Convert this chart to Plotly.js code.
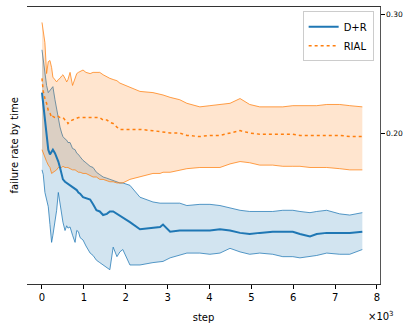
<!DOCTYPE html>
<html>
<head>
<meta charset="utf-8">
<script src="https://cdn.plot.ly/plotly-3.0.1.min.js"></script>
<style>
  html, body { margin: 0; padding: 0; background: #fff; }
  #chart { width: 416px; height: 332px; }
</style>
</head>
<body>
<div id="chart"></div>
<script>
// training step
var steps = [0, 30, 70, 110, 150, 190, 230, 260, 310, 350,
  390, 430, 470, 500, 550, 590, 620, 670, 730, 790,
  830, 870, 910, 980, 1050, 1150, 1220, 1300, 1380, 1460,
  1550, 1620, 1700, 1790, 1860, 1930, 2100, 2340, 2650, 2820,
  2890, 3060, 3290, 3460, 3770, 4010, 4250, 4490, 4730, 4960,
  5200, 5510, 5750, 5990, 6160, 6400, 6560, 6800, 7110, 7350,
  7650];

// D+R : mean and band
var drMean = [0.234, 0.224, 0.211, 0.197, 0.186, 0.182, 0.184, 0.186, 0.183, 0.180,
  0.176, 0.171, 0.166, 0.161, 0.159, 0.158, 0.157, 0.156, 0.155, 0.153,
  0.152, 0.150, 0.149, 0.146, 0.145, 0.144, 0.140, 0.135, 0.134, 0.131,
  0.132, 0.134, 0.134, 0.132, 0.130, 0.129, 0.125, 0.119, 0.120, 0.121,
  0.123, 0.117, 0.118, 0.118, 0.118, 0.118, 0.119, 0.118, 0.116, 0.115,
  0.116, 0.117, 0.117, 0.117, 0.115, 0.113, 0.115, 0.116, 0.116, 0.116,
  0.117];
var drUpper = [0.270, 0.261, 0.247, 0.240, 0.234, 0.236, 0.238, 0.239, 0.228, 0.219,
  0.211, 0.205, 0.200, 0.197, 0.195, 0.194, 0.192, 0.192, 0.187, 0.186,
  0.183, 0.182, 0.180, 0.177, 0.175, 0.172, 0.171, 0.167, 0.165, 0.163,
  0.162, 0.161, 0.160, 0.159, 0.158, 0.158, 0.156, 0.146, 0.142, 0.141,
  0.141, 0.141, 0.141, 0.139, 0.140, 0.140, 0.139, 0.137, 0.135, 0.134,
  0.134, 0.134, 0.135, 0.135, 0.134, 0.133, 0.134, 0.135, 0.132, 0.131,
  0.133];
var drLower = [0.169, 0.165, 0.150, 0.144, 0.138, 0.123, 0.108, 0.114, 0.124, 0.135,
  0.150, 0.140, 0.129, 0.125, 0.118, 0.122, 0.120, 0.121, 0.114, 0.108,
  0.118, 0.117, 0.112, 0.110, 0.105, 0.099, 0.097, 0.093, 0.091, 0.089,
  0.087, 0.085, 0.104, 0.096, 0.100, 0.102, 0.089, 0.089, 0.091, 0.092,
  0.092, 0.095, 0.097, 0.099, 0.099, 0.098, 0.099, 0.103, 0.100, 0.098,
  0.099, 0.098, 0.096, 0.096, 0.095, 0.096, 0.097, 0.099, 0.098, 0.098,
  0.102];

// RIAL : mean and band
var rialMean = [0.246, 0.235, 0.229, 0.225, 0.219, 0.217, 0.213, 0.214, 0.213, 0.213,
  0.214, 0.213, 0.213, 0.213, 0.211, 0.210, 0.208, 0.210, 0.211, 0.212,
  0.213, 0.213, 0.213, 0.213, 0.213, 0.213, 0.213, 0.213, 0.213, 0.211,
  0.211, 0.209, 0.208, 0.205, 0.203, 0.203, 0.203, 0.203, 0.202, 0.201,
  0.201, 0.200, 0.200, 0.198, 0.197, 0.198, 0.198, 0.200, 0.202, 0.200,
  0.199, 0.199, 0.199, 0.199, 0.198, 0.198, 0.198, 0.198, 0.198, 0.197,
  0.197];
var rialUpper = [0.293, 0.287, 0.276, 0.250, 0.260, 0.261, 0.255, 0.247, 0.245, 0.243,
  0.245, 0.246, 0.248, 0.249, 0.246, 0.243, 0.245, 0.251, 0.240, 0.246,
  0.250, 0.251, 0.252, 0.253, 0.251, 0.250, 0.251, 0.251, 0.251, 0.249,
  0.247, 0.246, 0.245, 0.244, 0.242, 0.241, 0.238, 0.235, 0.234, 0.233,
  0.232, 0.230, 0.228, 0.225, 0.222, 0.223, 0.224, 0.225, 0.229, 0.224,
  0.222, 0.222, 0.222, 0.223, 0.223, 0.223, 0.223, 0.224, 0.224, 0.223,
  0.222];
var rialLower = [0.186, 0.183, 0.179, 0.176, 0.173, 0.171, 0.166, 0.167, 0.168, 0.169,
  0.171, 0.171, 0.171, 0.172, 0.171, 0.171, 0.171, 0.170, 0.169, 0.169,
  0.168, 0.167, 0.167, 0.166, 0.166, 0.164, 0.163, 0.163, 0.161, 0.161,
  0.160, 0.159, 0.159, 0.158, 0.158, 0.158, 0.161, 0.163, 0.166, 0.166,
  0.167, 0.167, 0.169, 0.170, 0.171, 0.171, 0.171, 0.174, 0.176, 0.175,
  0.173, 0.173, 0.172, 0.172, 0.172, 0.171, 0.171, 0.171, 0.170, 0.169,
  0.169];

var xTicks = [0, 1000, 2000, 3000, 4000, 5000, 6000, 7000, 8000];
var xTickText = ['0', '1', '2', '3', '4', '5', '6', '7', '8'];
var yTicks = [0.20, 0.30];
var yTickText = ['0.20', '0.30'];

var blue = '#1f77b4';
var orange = '#ff7f0e';

function band(y, color, fill, fillcolor) {
  return {
    x: steps, y: y, yaxis: 'y2', mode: 'lines',
    line: {color: color, width: 1},
    fill: fill, fillcolor: fillcolor,
    showlegend: false, hoverinfo: 'skip'
  };
}

var data = [
  band(drUpper, 'rgba(31,119,180,0.75)', 'none'),
  band(drLower, 'rgba(31,119,180,0.75)', 'tonexty', 'rgba(31,119,180,0.2)'),
  band(rialUpper, 'rgba(255,127,14,0.75)', 'none'),
  band(rialLower, 'rgba(255,127,14,0.75)', 'tonexty', 'rgba(255,127,14,0.2)'),
  {
    x: steps, y: drMean, yaxis: 'y2', mode: 'lines', name: 'D+R',
    line: {color: blue, width: 2}
  },
  {
    x: steps, y: rialMean, yaxis: 'y2', mode: 'lines', name: 'RIAL',
    line: {color: orange, width: 1.5, dash: 'dot'}
  }
];

var yRange = [0.073, 0.306];

var layout = {
  width: 416, height: 332,
  margin: {l: 27, r: 36, t: 7, b: 48},
  paper_bgcolor: '#fff', plot_bgcolor: '#fff',
  font: {family: 'DejaVu Sans', size: 10, color: '#000'},
  xaxis: {
    range: [-358, 8072], tickvals: xTicks, ticktext: xTickText,
    ticks: 'outside', ticklen: 3.5, tickcolor: '#000',
    showline: true, linecolor: '#333', linewidth: 1, mirror: true,
    showgrid: false, zeroline: false,
    title: {text: 'step', font: {size: 10}, standoff: 12}
  },
  yaxis: {
    range: yRange, tickvals: [0.2084], ticks: 'outside', ticklen: 3.5,
    tickcolor: '#000', showticklabels: false,
    showline: true, linecolor: '#333', linewidth: 1,
    showgrid: false, zeroline: false
  },
  yaxis2: {
    overlaying: 'y', side: 'right', range: yRange,
    tickvals: yTicks, ticktext: yTickText,
    ticks: 'outside', ticklen: 3.5, tickcolor: '#000',
    tickfont: {size: 7.5},
    showline: true, linecolor: '#555', linewidth: 1,
    showgrid: false, zeroline: false
  },
  legend: {
    x: 0.982, y: 0.985, xanchor: 'right', yanchor: 'top',
    traceorder: 'normal', itemwidth: 30,
    bgcolor: 'rgba(255,255,255,0.8)', bordercolor: '#ccc', borderwidth: 1,
    font: {size: 10}
  },
  annotations: [{
    text: '×10<sup>3</sup>', xref: 'paper', yref: 'paper',
    x: 1.045, y: -0.115, xanchor: 'right', yanchor: 'middle',
    showarrow: false, font: {size: 10}
  }, {
    text: 'failure rate by time', xref: 'paper', yref: 'paper',
    x: -0.034, y: 0.5, xanchor: 'center', yanchor: 'middle',
    textangle: -90, showarrow: false, font: {size: 10}
  }]
};

Plotly.newPlot('chart', data, layout, {displayModeBar: false, staticPlot: true});
</script>
</body>
</html>
